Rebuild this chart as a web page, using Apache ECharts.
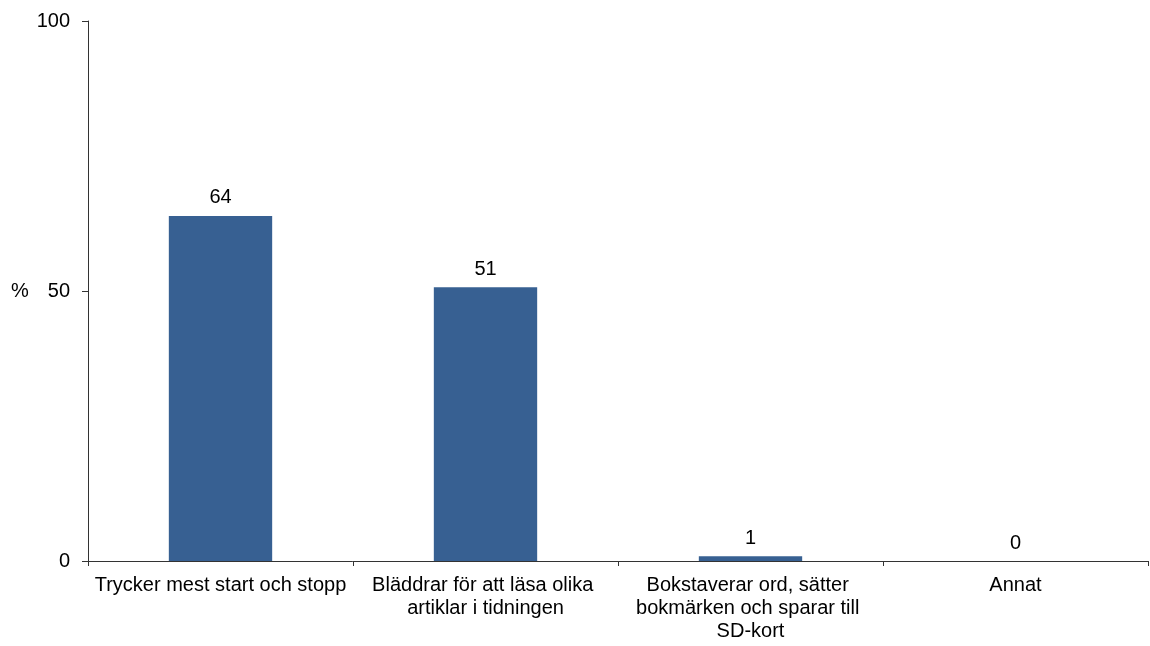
<!DOCTYPE html>
<html>
<head>
<meta charset="utf-8">
<script src="https://cdn.jsdelivr.net/npm/echarts@6/dist/echarts.min.js"></script>
<style>html,body{margin:0;padding:0;background:#fff;}#c{width:1150px;height:646px;}</style>
</head>
<body>
<div id="c"></div>
<script>
var categories = ["Trycker mest start och stopp", "Bläddrar för att läsa olika artiklar i tidningen", "Bokstaverar ord, sätter bokmärken och sparar till SD-kort", "Annat"];
var values = [63.9, 50.7, 0.9, 0];
var valueLabels = ["64", "51", "1", "0"];
var yTicks = [0, 50, 100];
var yName = "%";

var chart = echarts.init(document.getElementById('c'), null, {renderer: 'canvas'});
var font = '"Liberation Sans", Arial, sans-serif';
chart.setOption({
  animation: false,
  grid: {left: 88, right: 2, top: 21, bottom: 85, containLabel: false},
  xAxis: {
    type: 'category',
    data: categories,
    axisLine: {lineStyle: {color: '#333', width: 1}},
    axisTick: {show: true, length: 5, alignWithLabel: false, lineStyle: {color: '#333'}},
    axisLabel: {
      color: '#000', fontFamily: font, fontSize: 20, margin: 13,
      interval: 0, width: 262, overflow: 'break', lineHeight: 23, align: 'center'
    }
  },
  yAxis: {
    type: 'value', min: yTicks[0], max: yTicks[yTicks.length - 1], interval: 50,
    axisLine: {show: true, lineStyle: {color: '#333', width: 1}},
    axisTick: {show: true, length: 6, lineStyle: {color: '#333'}},
    splitLine: {show: false},
    axisLabel: {color: '#000', fontFamily: font, fontSize: 20, margin: 18}
  },
  graphic: [{
    type: 'text', left: 11, top: 281,
    style: {text: yName, fill: '#000', font: '20px ' + font}
  }],
  series: [{
    type: 'bar',
    data: values,
    barWidth: '39%',
    itemStyle: {color: '#376092'},
    label: {
      show: true, position: 'top', distance: 8,
      color: '#000', fontFamily: font, fontSize: 20,
      formatter: function (p) { return valueLabels[p.dataIndex]; }
    }
  }]
});
</script>
</body>
</html>
